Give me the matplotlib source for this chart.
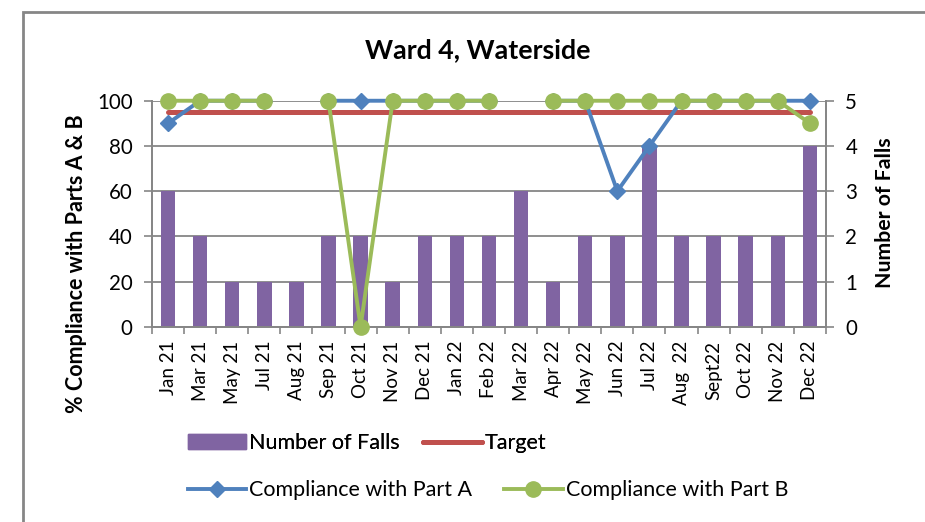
import numpy as np
import matplotlib
matplotlib.use("Agg")
import matplotlib.pyplot as plt
from matplotlib.patches import Rectangle
from matplotlib.lines import Line2D
from matplotlib.ticker import FixedLocator

plt.rcParams['font.family'] = ['Lato', 'DejaVu Sans']

months = ["Jan 21", "Mar 21", "May 21", "Jul 21", "Aug 21", "Sep 21", "Oct 21",
          "Nov 21", "Dec 21", "Jan 22", "Feb 22", "Mar 22", "Apr 22", "May 22",
          "Jun 22", "Jul 22", "Aug  22", "Sept22", "Oct 22", "Nov 22", "Dec 22"]
falls = [3, 2, 1, 1, 1, 2, 2, 1, 2, 2, 2, 3, 1, 2, 2, 4, 2, 2, 2, 2, 4]
part_a = [90, 100, 100, 100, np.nan, 100, 100, 100, 100, 100, 100, np.nan,
          100, 100, 60, 80, 100, 100, 100, 100, 100]
part_b = [100, 100, 100, 100, np.nan, 100, 0, 100, 100, 100, 100, np.nan,
          100, 100, 100, 100, 100, 100, 100, 100, 90]
target = [95] * len(months)

purple = "#8064A2"
red = "#C0504D"
blue = "#4F81BD"
green = "#9BBB59"
grey = "#868686"

fig = plt.figure(figsize=(9.25, 5.22), dpi=100)
ax = fig.add_axes([0.1643, 0.374, 0.7286, 0.433])
ax2 = ax.twinx()
ax.set_zorder(2)
ax2.set_zorder(1)
ax.patch.set_visible(False)

x = np.arange(len(months))

# bars on the right axis
ax2.bar(x, falls, width=0.45, color=purple, zorder=2)
ax2.set_ylim(0, 5)
ax2.set_yticks(range(6))
ax2.yaxis.grid(True, color=grey, linewidth=1.3, zorder=0)
ax2.set_axisbelow(True)

# lines on the left axis
ax.plot(x, target, color=red, linewidth=3.6, solid_capstyle='round', zorder=3)
ax.plot(x, part_a, color=blue, linewidth=2.8, marker='D', markersize=8,
        clip_on=False, zorder=4)
ax.plot(x, part_b, color=green, linewidth=2.8, marker='o', markersize=11,
        clip_on=False, zorder=5)
ax.set_ylim(0, 100)
ax.set_yticks(range(0, 101, 20))
ax.set_xlim(-0.5, len(months) - 0.5)
ax.set_xticks(x)
ax.set_xticklabels(months, rotation=90, fontsize=13.5)
ax.xaxis.set_minor_locator(FixedLocator(np.arange(-0.5, len(months), 1)))
ax.tick_params(axis='x', which='major', length=0, pad=10)
ax.tick_params(axis='x', which='minor', length=5, width=1.2, color=grey)
ax.tick_params(axis='y', length=6, width=1.2, color=grey, labelsize=14.8, pad=8)
ax2.tick_params(axis='y', length=6, width=1.2, color=grey, labelsize=14.8, pad=8)

for a in (ax, ax2):
    a.spines['top'].set_visible(False)
    for s in ('left', 'right', 'bottom'):
        a.spines[s].set_color(grey)
        a.spines[s].set_linewidth(1.3)

fig.text(0.517, 0.904, "Ward 4, Waterside", ha='center', va='center',
         fontsize=19.3, fontweight='bold')
fig.text(0.083, 0.494, "% Compliance with Parts A & B", ha='center', va='center',
         rotation=90, fontsize=15.5, fontweight='bold')
fig.text(0.957, 0.592, "Number of Falls", ha='center', va='center',
         rotation=90, fontsize=15.3, fontweight='bold')

# legends
h1 = [Rectangle((0, 0), 1, 1, color=purple),
      Line2D([], [], color=red, linewidth=3.6, solid_capstyle='round')]
h2 = [Line2D([], [], color=blue, linewidth=2.8, marker='D', markersize=8),
      Line2D([], [], color=green, linewidth=2.8, marker='o', markersize=11)]
leg1 = fig.legend(h1, ["Number of Falls", "Target"], ncol=2, frameon=False,
                  loc='center left', bbox_to_anchor=(0.203, 0.151),
                  fontsize=15.5, handlelength=2.7, handletextpad=0.15,
                  columnspacing=1.1, borderaxespad=0, borderpad=0)
leg2 = fig.legend(h2, ["Compliance with Part A", "Compliance with Part B"],
                  ncol=2, frameon=False, loc='center left',
                  bbox_to_anchor=(0.203, 0.061), fontsize=15.5, handlelength=2.7,
                  handletextpad=0.15, columnspacing=1.5, borderaxespad=0,
                  borderpad=0)
fig.add_artist(leg1)

# chart border
fig.patches.append(Rectangle((23 / 925, -0.2), 1.2, 1.2 - 12 / 522,
                             transform=fig.transFigure, fill=False,
                             edgecolor=grey, linewidth=2))

fig.savefig("out.png", dpi=100)
